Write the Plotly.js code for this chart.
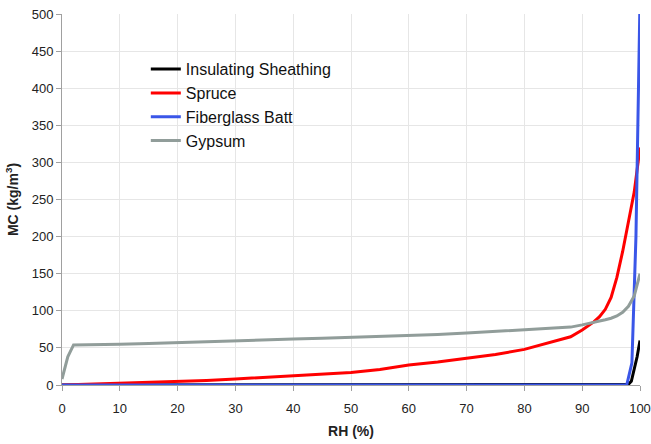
<!DOCTYPE html>
<html>
<head>
<meta charset="utf-8">
<script src="https://cdn.plot.ly/plotly-3.0.1.min.js"></script>
<style>html,body{margin:0;padding:0;background:#fff;}#chart{width:651px;height:444px;}</style>
</head>
<body>
<div id="chart"></div>
<script>
const seriesNames = ["Insulating Sheathing", "Spruce", "Fiberglass Batt", "Gypsum"];

const sheathingRH = [0, 86, 87, 98, 98.5, 99, 99.5, 100];
const sheathingMC = [0, 0, 1, 1, 5, 20, 38, 60];

const spruceRH = [0, 5, 10, 15, 20, 25, 30, 35, 40, 45, 50, 55, 60, 65, 70, 75, 80, 85, 88, 90, 91, 92, 93, 94, 95, 96, 97, 98, 99, 100];
const spruceMC = [0, 1, 2, 3, 4, 6, 8, 10, 12, 14, 17, 21, 27, 31, 36, 41, 48, 58, 65, 74, 79, 85, 92, 102, 118, 145, 180, 222, 260, 320];

const fiberglassRH = [0, 97.7, 98.6, 99.3, 100];
const fiberglassMC = [0, 0, 30, 200, 520];

const gypsumRH = [0, 1, 2, 5, 10, 15, 20, 25, 30, 35, 40, 45, 50, 55, 60, 65, 70, 75, 80, 85, 88, 90, 92, 94, 95, 96, 97, 98, 99, 99.5, 100];
const gypsumMC = [8, 38, 54, 54, 55, 56, 57, 58, 59, 61, 62, 63, 64, 65, 66, 68, 70, 72, 74, 76, 78, 81, 84, 88, 90, 93, 98, 106, 120, 135, 150];

const colors = ["#000000", "#ff0000", "#3a56e8", "#919d9a"];
const xs = [sheathingRH, spruceRH, fiberglassRH, gypsumRH];
const ys = [sheathingMC, spruceMC, fiberglassMC, gypsumMC];

const traces = seriesNames.map((n, i) => ({
  type: "scatter", mode: "lines", name: n,
  x: xs[i], y: ys[i],
  line: {color: colors[i], width: 3}
}));

const layout = {
  width: 651, height: 444,
  margin: {l: 62, r: 11, t: 14, b: 59},
  paper_bgcolor: "#fff", plot_bgcolor: "#fff",
  font: {family: "Liberation Sans, Arial, sans-serif", size: 13, color: "#222"},
  showlegend: true,
  legend: {x: 0.145, y: 0.897, xanchor: "left", yanchor: "top",
           bgcolor: "rgba(0,0,0,0)", font: {size: 16, color: "#111"}, tracegroupgap: 0},
  xaxis: {
    range: [0, 100], dtick: 10, showgrid: true, gridcolor: "#e6e6e6", gridwidth: 1,
    zeroline: false, showline: true, linecolor: "#a0a0a0", linewidth: 1,
    ticks: "outside", ticklen: 5, tickcolor: "#a0a0a0", ticklabelstandoff: 6,
    tickfont: {size: 13, color: "#222"},
    title: {text: "<b>RH (%)</b>", font: {size: 14, color: "#222"}, standoff: 11}
  },
  yaxis: {
    range: [0, 500], dtick: 50, showgrid: true, gridcolor: "#e6e6e6", gridwidth: 1,
    zeroline: false, showline: true, linecolor: "#a0a0a0", linewidth: 1,
    ticks: "outside", ticklen: 5, tickcolor: "#a0a0a0",
    tickfont: {size: 13, color: "#222"},
    title: {text: "<b>MC (kg/m<sup>3</sup>)</b>", font: {size: 14, color: "#222"}, standoff: 9}
  }
};

Plotly.newPlot("chart", traces, layout, {displayModeBar: false, staticPlot: true});
</script>
</body>
</html>
